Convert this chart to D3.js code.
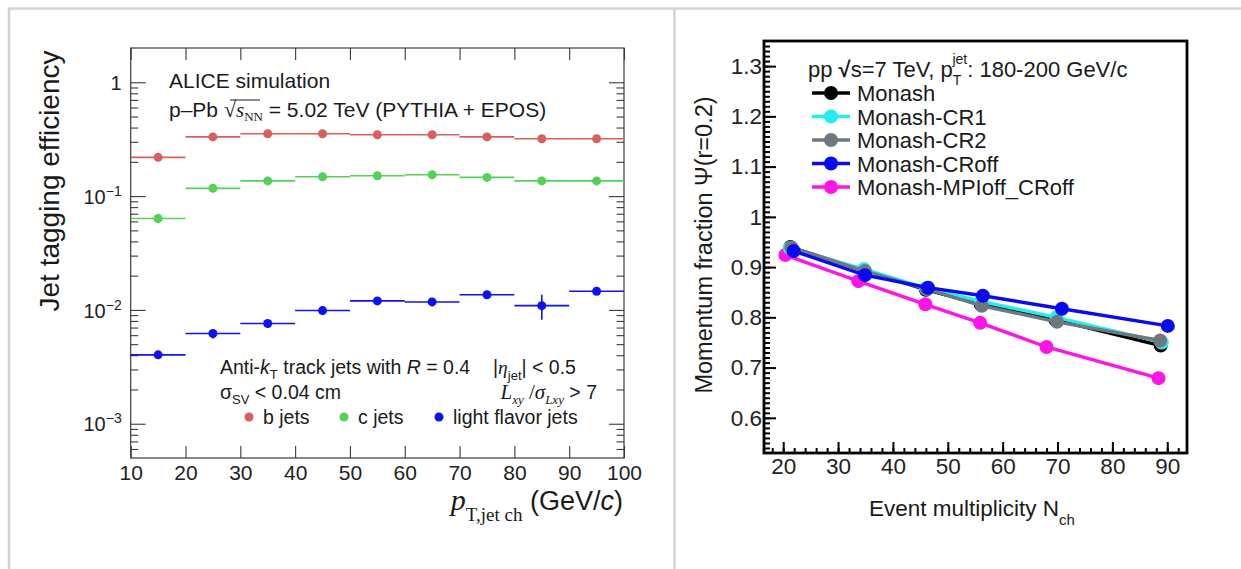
<!DOCTYPE html>
<html>
<head>
<meta charset="utf-8">
<script src="https://cdn.jsdelivr.net/npm/d3@7"></script>
<style>
  body { margin: 0; background: #fff; }
  svg { display: block; font-family: "Liberation Sans", Arial, Helvetica, sans-serif; }
  .serif { font-family: "Liberation Serif", "Times New Roman", serif; }
</style>
</head>
<body>
<svg id="canvas" width="1241" height="569"></svg>
<script>
// ---- left panel data: jet tagging efficiency vs pT bin ----
const binLo = [10, 20, 30, 40, 50, 60, 70, 80, 90];
const binHi = [20, 30, 40, 50, 60, 70, 80, 90, 100];
const bJets = [0.219, 0.331, 0.353, 0.353, 0.346, 0.346, 0.331, 0.319, 0.319];
const bErr = [0.006, 0.006, 0.006, 0.006, 0.006, 0.006, 0.006, 0.006, 0.006];
const cJets = [0.0635, 0.117, 0.136, 0.148, 0.151, 0.154, 0.146, 0.136, 0.136];
const cErr = [0.002, 0.002, 0.002, 0.002, 0.002, 0.002, 0.002, 0.002, 0.002];
const lightJets = [0.00403, 0.0062, 0.0076, 0.00987, 0.0120, 0.01175, 0.0136, 0.0109, 0.0146];
const lightErr = [0.0002, 0.0006, 0.0003, 0.0003, 0.0004, 0.0010, 0.0004, 0.0027, 0.0003];
const leftYTicks = [1, 0.1, 0.01, 0.001];
const leftXTicks = [10, 20, 30, 40, 50, 60, 70, 80, 90, 100];

// ---- right panel data: momentum fraction vs multiplicity ----
const tunes = ["Monash", "Monash-CR1", "Monash-CR2", "Monash-CRoff", "Monash-MPIoff_CRoff"];
const tuneColors = ["#000000", "#22eef0", "#6e7880", "#0a0af0", "#ff14e6"];
const nchMonash = [21.3, 34.8, 46.0, 56.0, 69.6, 88.8];
const psiMonash = [0.940, 0.893, 0.855, 0.826, 0.795, 0.744];
const nchCR1 = [21.2, 34.7, 46.0, 56.0, 69.8, 89.0];
const psiCR1 = [0.938, 0.896, 0.858, 0.832, 0.800, 0.750];
const nchCR2 = [21.5, 34.9, 46.2, 56.2, 69.9, 88.7];
const psiCR2 = [0.939, 0.892, 0.856, 0.823, 0.791, 0.754];
const nchCRoff = [21.9, 34.9, 46.4, 56.4, 70.8, 90.1];
const psiCRoff = [0.932, 0.884, 0.859, 0.843, 0.817, 0.783];
const nchMPIoff = [20.4, 33.7, 45.9, 55.9, 68.0, 88.4];
const psiMPIoff = [0.924, 0.872, 0.826, 0.789, 0.741, 0.679];
const rightYTicks = [0.6, 0.7, 0.8, 0.9, 1.0, 1.1, 1.2, 1.3];
const rightXTicks = [20, 30, 40, 50, 60, 70, 80, 90];

const svg = d3.select("#canvas");
const sans = "\"Liberation Sans\", Arial, sans-serif";

// page frame (cell borders)
svg.append("line").attr("x1", 8).attr("x2", 1241).attr("y1", 8.5).attr("y2", 8.5)
    .attr("stroke", "#d2d2d2").attr("stroke-width", 2.5);
svg.append("line").attr("x1", 9).attr("x2", 9).attr("y1", 8).attr("y2", 569)
    .attr("stroke", "#d2d2d2").attr("stroke-width", 2.5);
svg.append("line").attr("x1", 674.5).attr("x2", 674.5).attr("y1", 8).attr("y2", 569)
    .attr("stroke", "#d2d2d2").attr("stroke-width", 2.5);

// ================= LEFT PANEL =================
const lx = d3.scaleLinear().domain([10, 100]).range([130.7, 624]);
const ly = d3.scaleLog().domain([5e-4, 2]).range([458, 48]);
const left = svg.append("g");
const axisColor = "#3a3a3a";

// minor log ticks
const minorLog = [];
[1e-4, 1e-3, 1e-2, 1e-1, 1].forEach(d => {
    for (let k = 2; k <= 9; k++) {
        const v = d * k;
        if (v > 5e-4 && v < 2) minorLog.push(v);
    }
});

function styleAxis(g) {
    g.select(".domain").remove();
    g.selectAll(".tick line").attr("stroke", axisColor).attr("stroke-width", 1.1);
}

left.append("g").attr("transform", "translate(130.7,0)")
    .call(d3.axisLeft(ly).tickValues(minorLog).tickSize(-7.5).tickFormat(""))
    .call(styleAxis);
left.append("g").attr("transform", "translate(624,0)")
    .call(d3.axisRight(ly).tickValues(minorLog).tickSize(-7.5).tickFormat(""))
    .call(styleAxis);
left.append("g").attr("transform", "translate(624,0)")
    .call(d3.axisRight(ly).tickValues(leftYTicks).tickSize(-15).tickFormat(""))
    .call(styleAxis);

const lyAxis = left.append("g").attr("transform", "translate(130.7,0)")
    .call(d3.axisLeft(ly).tickValues(leftYTicks).tickSize(-15).tickPadding(9).tickFormat(""))
    .call(styleAxis);
lyAxis.selectAll(".tick text").each(function(d) {
    const t = d3.select(this).attr("fill", "#222").attr("font-size", 20)
        .attr("dy", "0.36em").attr("text-anchor", "end");
    if (d === 1) { t.text("1"); return; }
    const e = Math.round(Math.log10(d));
    t.append("tspan").text("10");
    t.append("tspan").attr("font-size", 14).attr("dy", -8).text("\u2212" + Math.abs(e));
});

left.append("g").attr("transform", "translate(0,458)")
    .call(d3.axisBottom(lx).tickValues(leftXTicks).tickSize(-12).tickPadding(7))
    .call(styleAxis)
    .call(g => g.selectAll(".tick text").attr("fill", "#222").attr("font-size", 21)
        .attr("font-family", sans));
left.append("g").attr("transform", "translate(0,48)")
    .call(d3.axisTop(lx).tickValues(leftXTicks).tickSize(-12).tickFormat(""))
    .call(styleAxis);

left.append("rect").attr("x", 130.7).attr("y", 48).attr("width", 624 - 130.7).attr("height", 410)
    .attr("fill", "none").attr("stroke", axisColor).attr("stroke-width", 1.2);

// series
const leftSeries = [
    { name: "b jets", vals: bJets, err: bErr, color: "#d95f5f" },
    { name: "c jets", vals: cJets, err: cErr, color: "#55d155" },
    { name: "light flavor jets", vals: lightJets, err: lightErr, color: "#1010f5" }
];
leftSeries.forEach(s => {
    const g = left.append("g");
    const pts = s.vals.map((v, i) => ({ lo: binLo[i], hi: binHi[i], v: v, e: s.err[i] }));
    g.selectAll("line.h").data(pts).enter().append("line")
        .attr("x1", d => lx(d.lo)).attr("x2", d => lx(d.hi))
        .attr("y1", d => ly(d.v)).attr("y2", d => ly(d.v))
        .attr("stroke", s.color).attr("stroke-width", 1.6);
    g.selectAll("line.v").data(pts).enter().append("line")
        .attr("x1", d => lx((d.lo + d.hi) / 2)).attr("x2", d => lx((d.lo + d.hi) / 2))
        .attr("y1", d => ly(d.v + d.e)).attr("y2", d => ly(d.v - d.e))
        .attr("stroke", s.color).attr("stroke-width", 1.6);
    g.selectAll("circle").data(pts).enter().append("circle")
        .attr("cx", d => lx((d.lo + d.hi) / 2)).attr("cy", d => ly(d.v))
        .attr("r", 4.5).attr("fill", s.color);
});

// annotation texts
const ltxt = left.append("g").attr("fill", "#1a1a1a").attr("font-size", 21);
ltxt.append("text").attr("x", 169).attr("y", 88).text("ALICE simulation");
const l2 = ltxt.append("text").attr("x", 169).attr("y", 117);
l2.append("tspan").text("p\u2013Pb ");
l2.append("tspan").attr("class", "serif").attr("font-size", 22).text("\u221A");
l2.append("tspan").attr("class", "serif").attr("font-style", "italic").text("s");
l2.append("tspan").attr("class", "serif").attr("font-size", 13).attr("dy", 4).text("NN");
l2.append("tspan").attr("dy", -4).text(" = 5.02 TeV (PYTHIA + EPOS)");
// overline of the sqrt
ltxt.append("line").attr("x1", 230).attr("x2", 260).attr("y1", 100).attr("y2", 100)
    .attr("stroke", "#1a1a1a").attr("stroke-width", 1);

const a1 = ltxt.append("text").attr("x", 220).attr("y", 374).attr("font-size", 19.5);
a1.append("tspan").text("Anti-");
a1.append("tspan").attr("font-style", "italic").text("k");
a1.append("tspan").attr("font-size", 13).attr("dy", 5).text("T");
a1.append("tspan").attr("dy", -5).text(" track jets with ");
a1.append("tspan").attr("font-style", "italic").text("R");
a1.append("tspan").text(" = 0.4");

const a2 = ltxt.append("text").attr("x", 493).attr("y", 374).attr("font-size", 19.5);
a2.append("tspan").text("|");
a2.append("tspan").attr("class", "serif").attr("font-style", "italic").text("\u03B7");
a2.append("tspan").attr("font-size", 13).attr("dy", 6).text("jet");
a2.append("tspan").attr("dy", -6).text("| < 0.5");

const a3 = ltxt.append("text").attr("x", 220).attr("y", 399).attr("font-size", 19.5);
a3.append("tspan").text("\u03C3");
a3.append("tspan").attr("font-size", 13).attr("dy", 5).text("SV");
a3.append("tspan").attr("dy", -5).text(" < 0.04 cm");

const a4 = ltxt.append("text").attr("x", 597).attr("y", 399).attr("font-size", 21)
    .attr("text-anchor", "end").attr("class", "serif");
a4.append("tspan").attr("font-style", "italic").text("L");
a4.append("tspan").attr("font-style", "italic").attr("font-size", 13).attr("dy", 5).text("xy");
a4.append("tspan").attr("dy", -5).text(" /");
a4.append("tspan").attr("font-style", "italic").text("\u03C3");
a4.append("tspan").attr("font-style", "italic").attr("font-size", 13).attr("dy", 5).text("Lxy");
a4.append("tspan").attr("dy", -5).attr("font-family", sans).attr("font-size", 19.5).text(" > 7");

const legX = [249, 344, 439];
leftSeries.forEach((s, i) => {
    ltxt.append("circle").attr("cx", legX[i]).attr("cy", 417).attr("r", 4.5).attr("fill", s.color);
    ltxt.append("text").attr("x", legX[i] + 14).attr("y", 424).attr("font-size", 19.5).text(s.name);
});

// axis titles
left.append("text").attr("transform", "translate(59,181) rotate(-90)")
    .attr("text-anchor", "middle").attr("font-size", 28).attr("fill", "#1a1a1a")
    .text("Jet tagging efficiency");
const xt = left.append("text").attr("x", 623).attr("y", 510).attr("text-anchor", "end")
    .attr("fill", "#1a1a1a").attr("font-size", 27);
xt.append("tspan").attr("class", "serif").attr("font-style", "italic").attr("font-size", 30).text("p");
xt.append("tspan").attr("class", "serif").attr("font-size", 19).attr("dy", 11).text("T,jet ch");
xt.append("tspan").attr("dy", -11).text(" (GeV/");
xt.append("tspan").attr("font-style", "italic").text("c");
xt.append("tspan").text(")");

// ================= RIGHT PANEL =================
const rx = d3.scaleLinear().domain([16.5, 93.6]).range([764, 1187]);
const ry = d3.scaleLinear().domain([0.53, 1.35]).range([453, 41]);
const right = svg.append("g");

function styleAxisR(g) {
    g.select(".domain").remove();
    g.selectAll(".tick line").attr("stroke", "#000").attr("stroke-width", 2);
}

const ryMinor = d3.range(54, 135).map(d => d / 100);
const rxMinor = d3.range(18, 94, 2);
right.append("g").attr("transform", "translate(764,0)")
    .call(d3.axisLeft(ry).tickValues(ryMinor).tickSize(-6).tickFormat(""))
    .call(styleAxisR);
right.append("g").attr("transform", "translate(764,0)")
    .call(d3.axisLeft(ry).tickValues(rightYTicks).tickSize(-12).tickPadding(2)
        .tickFormat(d => d === 1 ? "1" : d3.format(".1f")(d)))
    .call(styleAxisR)
    .call(g => g.selectAll(".tick text").attr("fill", "#222").attr("font-size", 22.5)
        .attr("font-family", sans));
right.append("g").attr("transform", "translate(0,453)")
    .call(d3.axisBottom(rx).tickValues(rxMinor).tickSize(-5).tickFormat(""))
    .call(styleAxisR);
right.append("g").attr("transform", "translate(0,453)")
    .call(d3.axisBottom(rx).tickValues(rightXTicks).tickSize(-11).tickPadding(5))
    .call(styleAxisR)
    .call(g => g.selectAll(".tick text").attr("fill", "#222").attr("font-size", 22.5)
        .attr("font-family", sans));

right.append("rect").attr("x", 764).attr("y", 41).attr("width", 1187 - 764).attr("height", 412)
    .attr("fill", "none").attr("stroke", "#000").attr("stroke-width", 2.8);

const rightSeries = [
    { xs: nchMonash, ys: psiMonash },
    { xs: nchCR1, ys: psiCR1 },
    { xs: nchCR2, ys: psiCR2 },
    { xs: nchCRoff, ys: psiCRoff },
    { xs: nchMPIoff, ys: psiMPIoff }
];
// draw order: magenta first, then the rest with CRoff on top
const drawOrder = [4, 0, 1, 2, 3];
const line = d3.line().x(d => rx(d[0])).y(d => ry(d[1]));
drawOrder.forEach(i => {
    const s = rightSeries[i];
    const pts = s.xs.map((x, j) => [x, s.ys[j]]);
    const g = right.append("g");
    g.append("path").datum(pts).attr("d", line).attr("fill", "none")
        .attr("stroke", tuneColors[i]).attr("stroke-width", 3.4);
    g.selectAll("circle").data(pts).enter().append("circle")
        .attr("cx", d => rx(d[0])).attr("cy", d => ry(d[1])).attr("r", 7)
        .attr("fill", tuneColors[i]);
});

// legend
const rl = right.append("g").attr("fill", "#1a1a1a").attr("font-size", 22);
const hdr = rl.append("text").attr("x", 808).attr("y", 77);
hdr.append("tspan").text("pp ");
hdr.append("tspan").attr("font-weight", "bold").text("\u221A");
hdr.append("tspan").text("s=7 TeV, p");
hdr.append("tspan").attr("font-size", 14).attr("dy", 8).text("T");
hdr.append("tspan").attr("font-size", 14).attr("dx", -9).attr("dy", -21).text("jet");
hdr.append("tspan").attr("dy", 13).text(": 180-200 GeV/c");

tunes.forEach((t, i) => {
    const y = 93 + i * 23.5;
    rl.append("line").attr("x1", 812).attr("x2", 850).attr("y1", y).attr("y2", y)
        .attr("stroke", tuneColors[i]).attr("stroke-width", 3.4);
    rl.append("circle").attr("cx", 831).attr("cy", y).attr("r", 7).attr("fill", tuneColors[i]);
    rl.append("text").attr("x", 857).attr("y", y + 8).text(t);
});

// axis titles
right.append("text").attr("transform", "translate(712,245) rotate(-90)")
    .attr("text-anchor", "middle").attr("font-size", 23.5).attr("fill", "#1a1a1a")
    .text("Momentum fraction \u03A8(r=0.2)");
const rt = right.append("text").attr("x", 972).attr("y", 516).attr("text-anchor", "middle")
    .attr("font-size", 22.5).attr("fill", "#1a1a1a");
rt.append("tspan").text("Event multiplicity N");
rt.append("tspan").attr("font-size", 15).attr("dy", 9).text("ch");
</script>
</body>
</html>
